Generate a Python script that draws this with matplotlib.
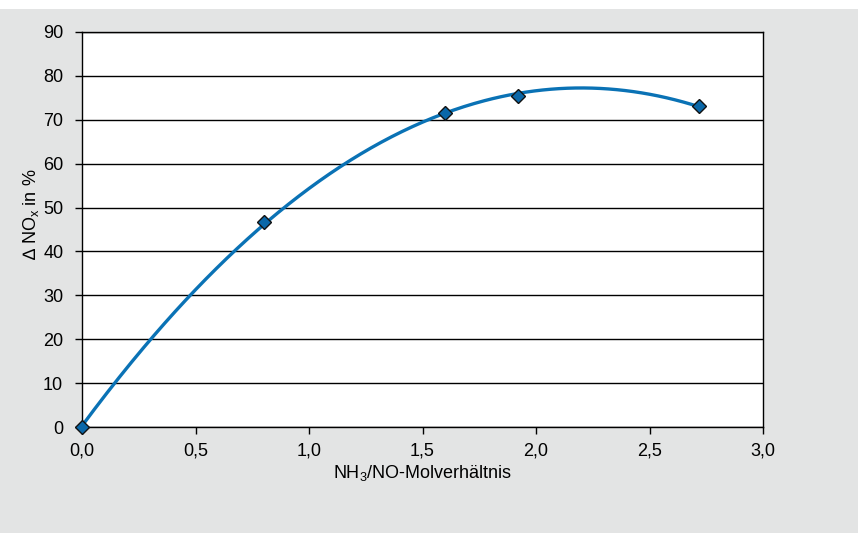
import numpy as np
import matplotlib
matplotlib.use("Agg")
import matplotlib.pyplot as plt
from matplotlib.patches import Rectangle
from matplotlib.ticker import FuncFormatter

plt.rcParams['font.family'] = ['Liberation Sans', 'DejaVu Sans']
plt.rcParams['mathtext.fontset'] = 'custom'
plt.rcParams['mathtext.rm'] = 'Liberation Sans'
plt.rcParams['mathtext.fallback'] = 'stixsans'

ratio = [0.0, 0.8, 1.6, 1.92, 2.72]
nox_reduction = [0.0, 46.7, 71.5, 75.4, 73.2]
yticks = [0, 10, 20, 30, 40, 50, 60, 70, 80, 90]
xticks = [0.0, 0.5, 1.0, 1.5, 2.0, 2.5, 3.0]

W, H = 861, 533
fig = plt.figure(figsize=(W/100, H/100), dpi=100, facecolor='white')
bg = '#e3e4e4'
fig.patches.append(Rectangle((0, 0), 858/W, (H-9)/H, transform=fig.transFigure,
                             facecolor=bg, edgecolor='none', zorder=-10))

left, right, top, bottom = 82, 763, 32, 427
ax = fig.add_axes([left/W, 1-bottom/H, (right-left)/W, (bottom-top)/H])
ax.set_facecolor('white')

# quadratic trend line fitted to the points
coef = np.polyfit(ratio, nox_reduction, 2)
xs = np.linspace(min(ratio), max(ratio), 300)
ax.plot(xs, np.polyval(coef, xs), color='#0a72b5', lw=2.4, zorder=3, clip_on=False)
ax.plot(ratio, nox_reduction, linestyle='none', marker='D', ms=7.5,
        markerfacecolor='#0a67a8', markeredgecolor='#111111', markeredgewidth=1.0,
        zorder=4, clip_on=False)

ax.set_xlim(0, 3)
ax.set_ylim(0, 90)
ax.set_xticks(xticks)
ax.set_yticks(yticks)
fmt = FuncFormatter(lambda v, p: f"{v:.1f}".replace('.', ','))
ax.xaxis.set_major_formatter(fmt)
ax.yaxis.grid(True, color='black', lw=1.0)
ax.set_axisbelow(True)
for s in ax.spines.values():
    s.set_color('black')
    s.set_linewidth(1.0)
ax.tick_params(axis='both', direction='out', length=5, width=1, colors='black',
               labelsize=13)
ax.tick_params(axis='y', pad=8.5)
ax.tick_params(axis='x', pad=6)

ax.set_xlabel('NH$_\\mathregular{3}$/NO-Molverhältnis', fontsize=13)
ax.xaxis.set_label_coords(0.5, -(463 - bottom) / (bottom - top))
ax.set_ylabel('∆ NO$_\\mathregular{x}$ in %', fontsize=13)
ax.yaxis.set_label_coords((41 - left) / (right - left), (bottom - 214) / (bottom - top))

fig.savefig('out.png', dpi=100, facecolor='white')
